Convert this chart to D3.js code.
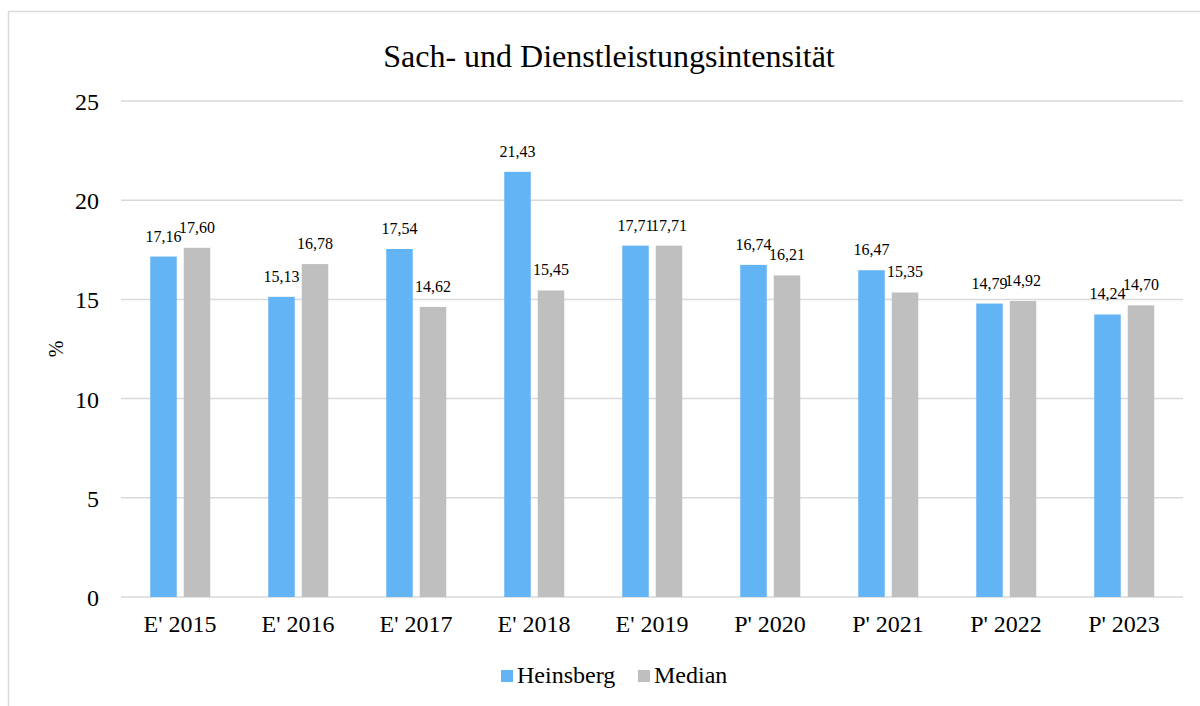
<!DOCTYPE html>
<html lang="de">
<head>
<meta charset="UTF-8">
<script src="https://d3js.org/d3.v7.min.js"></script>
<title>Sach- und Dienstleistungsintensität</title>
<style>
    body { margin: 0; background: #fff; }
    svg text { font-family: "Liberation Serif", "Times New Roman", serif; fill: #000; }
</style>
</head>
<body>
<div id="chart"></div>
<script>
// data
const years = ["E' 2015", "E' 2016", "E' 2017", "E' 2018", "E' 2019", "P' 2020", "P' 2021", "P' 2022", "P' 2023"];
const heinsberg = [17.16, 15.13, 17.54, 21.43, 17.71, 16.74, 16.47, 14.79, 14.24];
const median = [17.60, 16.78, 14.62, 15.45, 17.71, 16.21, 15.35, 14.92, 14.70];
const seriesNames = ["Heinsberg", "Median"];
const yTicks = [0, 5, 10, 15, 20, 25];

const colors = ["#63b4f5", "#bfbfbf"];
const serif = "'Liberation Serif', 'Times New Roman', serif";
const width = 1200, height = 706;
const margin = { left: 121, right: 17, top: 101, bottom: 109 };

const svg = d3.select("#chart").append("svg")
    .attr("width", width)
    .attr("height", height)
    .attr("font-family", serif);

// outer chart border (only left and top visible in frame)
svg.append("rect")
    .attr("x", 8.5).attr("y", 11.5)
    .attr("width", 1300).attr("height", 800)
    .attr("fill", "none")
    .attr("stroke", "#d9d9d9")
    .attr("stroke-width", 1.5);

const x = d3.scaleBand()
    .domain(years)
    .range([margin.left, width - margin.right]);

const y = d3.scaleLinear()
    .domain([0, 25])
    .range([height - margin.bottom, margin.top]);

// grid
svg.append("g")
    .selectAll("line")
    .data(yTicks)
    .join("line")
    .attr("x1", margin.left)
    .attr("x2", width - margin.right)
    .attr("y1", d => y(d))
    .attr("y2", d => y(d))
    .attr("stroke", "#d9d9d9")
    .attr("stroke-width", 1.5);

// y axis labels
const yAxis = svg.append("g")
    .attr("transform", `translate(${margin.left - 22},0)`)
    .call(d3.axisLeft(y).tickValues(yTicks).tickSize(0).tickPadding(0))
    .attr("font-family", serif)
    .attr("font-size", 24);
yAxis.select(".domain").remove();
yAxis.selectAll("text")
    .attr("fill", "#000")
    .attr("dy", "0.35em");

// x axis labels
const xAxis = svg.append("g")
    .attr("transform", `translate(0,${y(0) + 18})`)
    .call(d3.axisBottom(x).tickSize(0).tickPadding(0))
    .attr("font-family", serif)
    .attr("font-size", 24);
xAxis.select(".domain").remove();
xAxis.selectAll("text")
    .attr("fill", "#000")
    .attr("dy", "0.71em");

// y label
svg.append("text")
    .attr("transform", `translate(63,${(y(0) + y(25)) / 2}) rotate(-90)`)
    .attr("text-anchor", "middle")
    .attr("font-size", 20)
    .text("%");

// title
svg.append("text")
    .attr("x", 609)
    .attr("y", 67)
    .attr("text-anchor", "middle")
    .attr("font-size", 32)
    .text("Sach- und Dienstleistungsintensität");

const barW = 26.5;
const offsets = [-16.5, 17];
const seriesData = [heinsberg, median];

const fmt = v => v.toFixed(2).replace(".", ",");

seriesData.forEach((vals, s) => {
    const g = svg.append("g");
    g.selectAll("rect")
        .data(vals)
        .join("rect")
        .attr("x", (d, i) => x(years[i]) + x.bandwidth() / 2 + offsets[s] - barW / 2)
        .attr("y", d => y(d))
        .attr("width", barW)
        .attr("height", d => y(0) - y(d))
        .attr("fill", colors[s]);
    g.selectAll("text")
        .data(vals)
        .join("text")
        .attr("x", (d, i) => x(years[i]) + x.bandwidth() / 2 + offsets[s])
        .attr("y", d => y(d) - 15)
        .attr("text-anchor", "middle")
        .attr("font-size", 16)
        .text(d => fmt(d));
});

// legend
const legend = svg.append("g").attr("transform", "translate(501,670)");
const legX = [0, 137];
seriesNames.forEach((name, i) => {
    legend.append("rect")
        .attr("x", legX[i]).attr("y", 0)
        .attr("width", 12).attr("height", 12)
        .attr("fill", colors[i]);
    legend.append("text")
        .attr("x", legX[i] + 16)
        .attr("y", 13)
        .attr("font-size", 24)
        .text(name);
});
</script>
</body>
</html>
